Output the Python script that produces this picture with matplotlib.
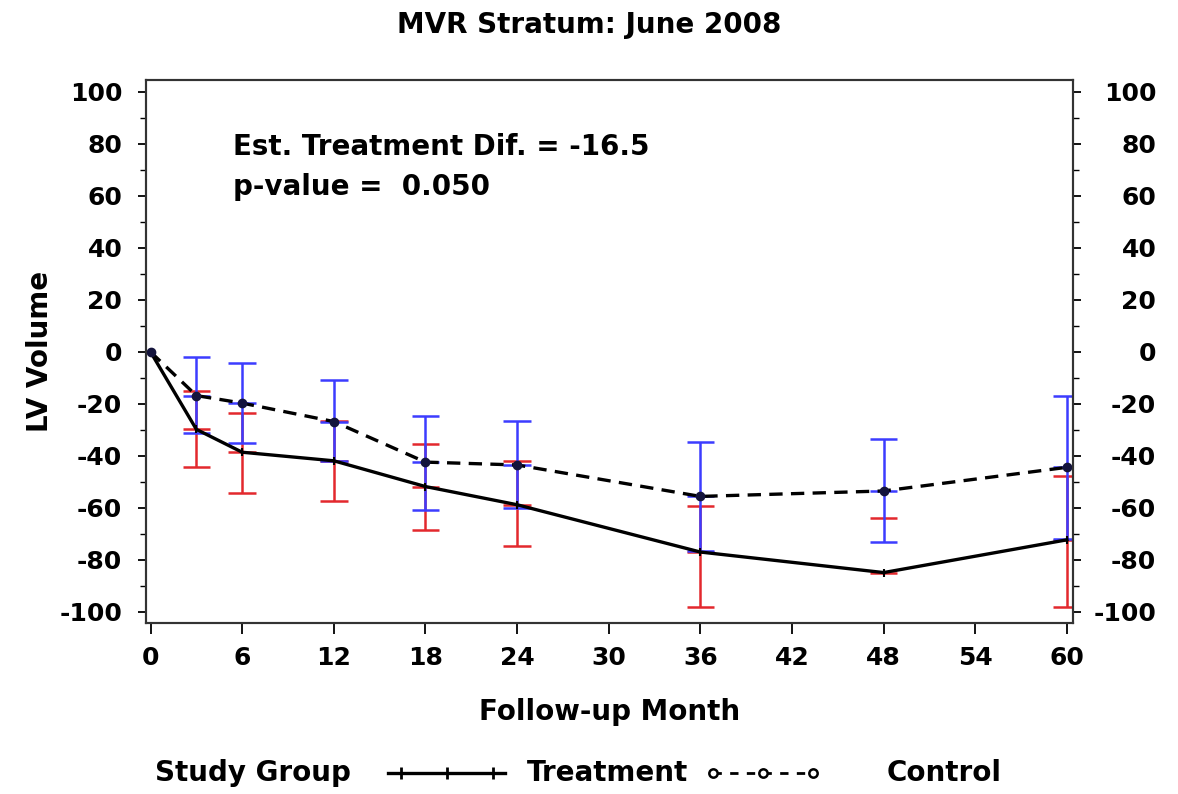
import numpy as np
import matplotlib
matplotlib.use("Agg")
import matplotlib.pyplot as plt
from matplotlib.lines import Line2D
from matplotlib.ticker import MultipleLocator

plt.rcParams['font.family'] = ['DejaVu Sans']
plt.rcParams['font.weight'] = 'bold'
plt.rcParams['axes.unicode_minus'] = False

# Data
months = [0, 3, 6, 12, 18, 24, 36, 48, 60]

treat_mean = [0, -29.8, -38.6, -41.9, -51.8, -58.8, -77.0, -84.9, -72.3]
treat_hi = [np.nan, -14.9, -23.6, -26.7, -35.6, -41.9, -59.1, -64.0, -47.8]
treat_lo = [np.nan, -44.1, -54.1, -57.2, -68.7, -74.6, -98.0, np.nan, -98.2]

ctrl_mean = [0, -16.8, -19.7, -26.8, -42.4, -43.5, -55.6, -53.5, -44.4]
ctrl_hi = [np.nan, -1.8, -4.1, -11.0, -24.6, -26.4, -34.5, -33.5, -16.8]
ctrl_lo = [np.nan, -31.3, -35.1, -41.8, -60.8, -60.1, -76.7, -73.2, -71.9]

est_text = "Est. Treatment Dif. = -16.5"
p_text = "p-value =  0.050"

fig = plt.figure(figsize=(11.78, 7.94), dpi=100)
ax = fig.add_axes([0.1239, 0.2157, 0.7870, 0.6835])

RED = '#e3282d'
BLUE = '#3c3cff'


def draw_bars(x, mean, hi, lo, color):
    # vertical bar plus ticks at upper, mean and lower values
    for xi, m, h, l in zip(x, mean, hi, lo):
        if np.isnan(h) and np.isnan(l):
            continue
        if not np.isnan(h) and not np.isnan(l):
            ax.vlines(xi, l, h, colors=color, lw=1.8, zorder=2)
        vals = [v for v in (h, m, l) if not np.isnan(v)]
        ax.hlines(vals, xi - 0.9, xi + 0.9, colors=color, lw=1.8, zorder=2)


draw_bars(months, treat_mean, treat_hi, treat_lo, RED)
draw_bars(months, ctrl_mean, ctrl_hi, ctrl_lo, BLUE)

ax.plot(months, treat_mean, color='black', lw=2.4, marker='|', ms=6, mew=1.5, zorder=3)
ax.plot(months, ctrl_mean, color='black', lw=2.4, ls=(0, (4, 2.5)), marker='o', ms=6,
        mfc='#14143c', mec='#14143c', zorder=3)

ax.set_xlim(-0.3, 60.4)
ax.set_ylim(-104.2, 104.6)
ax.set_xticks(range(0, 61, 6))
ax.set_yticks(range(-100, 101, 20))
ax.yaxis.set_minor_locator(MultipleLocator(10))
ax.tick_params(axis='both', which='major', labelsize=18, width=1.3)
ax.tick_params(axis='x', length=8, pad=9)
ax.tick_params(axis='y', which='major', length=6, pad=11)
ax.tick_params(axis='y', which='minor', length=4, width=1.0)
for s in ax.spines.values():
    s.set_linewidth(1.5)
    s.set_color('#333333')

# right axis with right-aligned labels
ax2 = ax.twinx()
ax2.set_ylim(ax.get_ylim())
ax2.set_yticks(range(-100, 101, 20))
ax2.yaxis.set_minor_locator(MultipleLocator(10))
ax2.tick_params(axis='y', which='major', labelsize=18, length=6, width=1.3, pad=54)
ax2.tick_params(axis='y', which='minor', length=4, width=1.0)
for lab in ax2.get_yticklabels():
    lab.set_horizontalalignment('right')
for s in ax2.spines.values():
    s.set_linewidth(1.5)
    s.set_color('#333333')

ax.set_xlabel("Follow-up Month", fontsize=20, fontweight='bold', labelpad=20)
ax.set_ylabel("LV Volume", fontsize=20, fontweight='bold', labelpad=4)

ax.text(5.37, 78.8, est_text, fontsize=20, fontweight='bold', va='center', ha='left')
ax.text(5.37, 63.4, p_text, fontsize=20, fontweight='bold', va='center', ha='left')

fig.text(0.5, 0.9685, "MVR Stratum: June 2008", fontsize=20, fontweight='bold',
         ha='center', va='center')

# Legend at the bottom
ly = 1 - 773 / 794
fig.text(155 / 1178, ly, "Study Group", fontsize=20, fontweight='bold', va='center', ha='left')
tx = np.array([388, 447, 505]) / 1178
fig.add_artist(Line2D(tx, [ly] * 3, color='black', lw=2.4, transform=fig.transFigure))
fig.add_artist(Line2D(np.array([401, 447, 493]) / 1178, [ly] * 3, ls='none', marker='|',
                      ms=9, mew=2, color='black', transform=fig.transFigure))
fig.text(527 / 1178, ly, "Treatment", fontsize=20, fontweight='bold', va='center', ha='left')
cx = np.array([713, 763, 813]) / 1178
fig.add_artist(Line2D(cx, [ly] * 3, color='black', lw=2, ls=(0, (3, 3)), marker='o', ms=6,
                      mfc='white', mec='black', mew=1.8, transform=fig.transFigure))
fig.text(887 / 1178, ly, "Control", fontsize=20, fontweight='bold', va='center', ha='left')

fig.savefig("out.png", dpi=100)
